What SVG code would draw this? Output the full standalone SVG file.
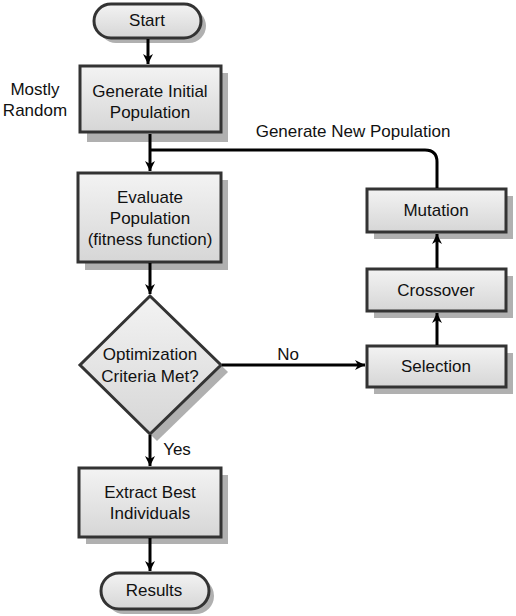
<svg xmlns="http://www.w3.org/2000/svg" width="516" height="616" viewBox="0 0 516 616">
<style>
.box{fill:url(#g);stroke:#333;stroke-width:3}
.sh{fill:#b0b0b0;stroke:none}
.t{font-family:"Liberation Sans",Arial,sans-serif;font-size:17px;fill:#111;text-anchor:middle}
.c{fill:none;stroke:#000;stroke-width:3}
</style>
<defs>
<linearGradient id="g" x1="0" y1="0" x2="0" y2="1">
<stop offset="0" stop-color="#f3f3f3"/>
<stop offset="1" stop-color="#d6d6d6"/>
</linearGradient>
<marker id="a" viewBox="0 0 12 12" refX="11" refY="6" markerWidth="12" markerHeight="12" markerUnits="userSpaceOnUse" orient="auto">
<path d="M1,1 L11,6 L1,11 L4,6 z" fill="#000"/>
</marker>
</defs>
<rect width="516" height="616" fill="#fff"/>
<text class="t" x="35" y="95">Mostly</text>
<text class="t" x="35" y="116">Random</text>
<g id="start">
<rect class="sh" x="99" y="9" width="107" height="34" rx="17"/>
<rect class="box" x="94" y="4" width="107" height="34" rx="17"/>
<text class="t" x="147" y="26">Start</text>
</g>
<g id="gen">
<rect class="sh" x="87" y="73" width="141" height="69"/>
<rect class="box" x="80" y="66" width="141" height="66"/>
<text class="t" x="150" y="97">Generate Initial</text>
<text class="t" x="150" y="118">Population</text>
</g>
<g id="eval">
<rect class="sh" x="85" y="180" width="143" height="90"/>
<rect class="box" x="78" y="173" width="143" height="89"/>
<text class="t" x="150" y="203">Evaluate</text>
<text class="t" x="150" y="224">Population</text>
<text class="t" x="150" y="245">(fitness function)</text>
</g>
<g id="decision">
<polygon class="sh" points="157,303 228,372 157,441 87,372"/>
<polygon class="box" points="150,296 221,365 150,434 80,365"/>
<text class="t" x="150" y="360">Optimization</text>
<text class="t" x="150" y="382">Criteria Met?</text>
</g>
<g id="extract">
<rect class="sh" x="86" y="475" width="142" height="69"/>
<rect class="box" x="79" y="468" width="142" height="69"/>
<text class="t" x="150" y="498">Extract Best</text>
<text class="t" x="150" y="519">Individuals</text>
</g>
<g id="results">
<rect class="sh" x="106" y="578" width="108" height="36" rx="18"/>
<rect class="box" x="101" y="573" width="108" height="36" rx="18"/>
<text class="t" x="154" y="596">Results</text>
</g>
<g id="mutation">
<rect class="sh" x="374" y="196" width="139" height="43"/>
<rect class="box" x="367" y="189" width="139" height="43"/>
<text class="t" x="436" y="216">Mutation</text>
</g>
<g id="crossover">
<rect class="sh" x="374" y="276" width="139" height="42"/>
<rect class="box" x="367" y="269" width="139" height="42"/>
<text class="t" x="436" y="296">Crossover</text>
</g>
<g id="selection">
<rect class="sh" x="374" y="353" width="139" height="41"/>
<rect class="box" x="367" y="346" width="139" height="41"/>
<text class="t" x="436" y="372">Selection</text>
</g>
<g id="connectors">
<path class="c" d="M148,39 V64" marker-end="url(#a)"/>
<path class="c" d="M150,134 V171" marker-end="url(#a)"/>
<path class="c" d="M437,188 V162 Q437,150 425,150 H150"/>
<path class="c" d="M150,263 V294" marker-end="url(#a)"/>
<path class="c" d="M150,435 V466" marker-end="url(#a)"/>
<path class="c" d="M150,538 V571" marker-end="url(#a)"/>
<path class="c" d="M222,365 H365" marker-end="url(#a)"/>
<path class="c" d="M437,345 V313" marker-end="url(#a)"/>
<path class="c" d="M437,268 V234" marker-end="url(#a)"/>
<text class="t" x="353" y="137">Generate New Population</text>
<text class="t" x="288" y="360">No</text>
<text class="t" x="177" y="455">Yes</text>
</g>
</svg>
